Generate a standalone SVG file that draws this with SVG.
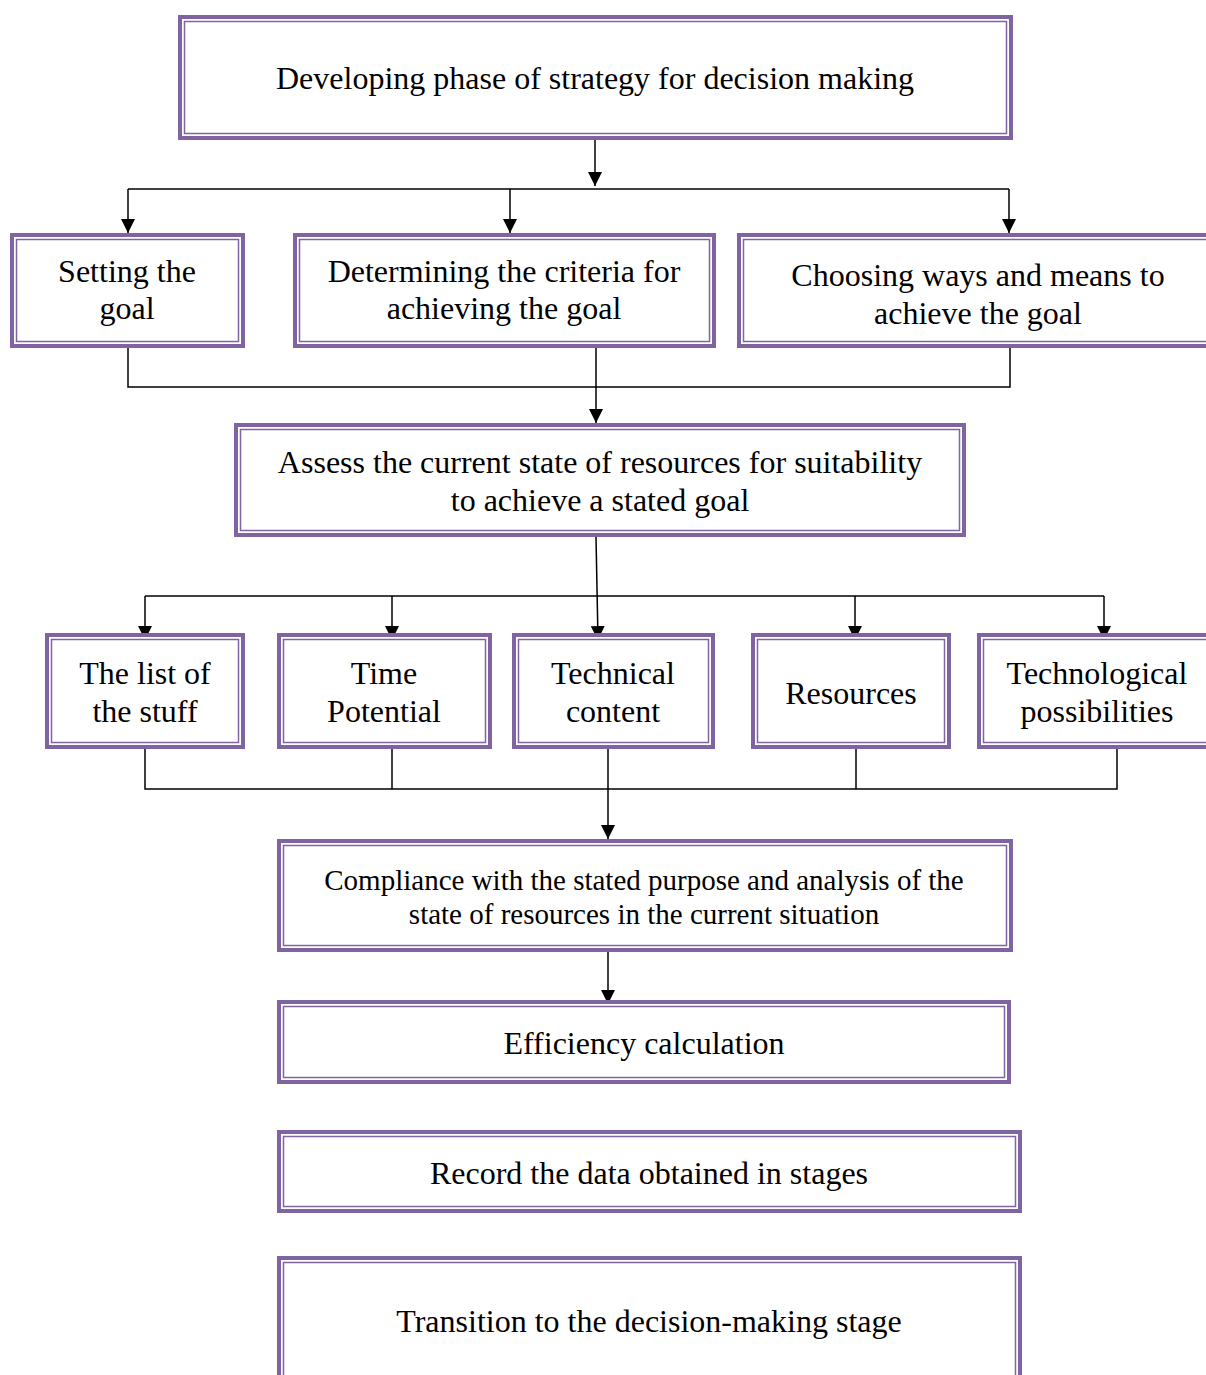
<svg xmlns="http://www.w3.org/2000/svg" width="1206" height="1375" viewBox="0 0 1206 1375">
<style>
.o{fill:#fff;stroke:#8064A2;stroke-width:4}
.i{fill:none;stroke:#8064A2;stroke-width:1.5}
.t{font-family:"Liberation Serif","Times New Roman",serif;font-size:32px;fill:#000;text-anchor:middle}
.s{font-size:29px}
.c{fill:none;stroke:#000;stroke-width:1.5}
</style>
<defs>
<marker id="dn" markerUnits="userSpaceOnUse" markerWidth="16" markerHeight="16" viewBox="0 0 16 16" refX="14" refY="8" orient="auto">
<path d="M0,1 L14,8 L0,15 Z" fill="#000"/>
</marker>
</defs>
<g id="connectors">
<path class="c" d="M595,140 V186" marker-end="url(#dn)"/>
<path class="c" d="M128,189 H1009"/>
<path class="c" d="M128,189 V233" marker-end="url(#dn)"/>
<path class="c" d="M510,189 V233" marker-end="url(#dn)"/>
<path class="c" d="M1009,189 V233" marker-end="url(#dn)"/>
<path class="c" d="M128,348 V387 H1010 V348"/>
<path class="c" d="M596,348 V423" marker-end="url(#dn)"/>
<path class="c" d="M596,537 L598,640" marker-end="url(#dn)"/>
<path class="c" d="M145,596 H1104"/>
<path class="c" d="M145,596 V640" marker-end="url(#dn)"/>
<path class="c" d="M392,596 V640" marker-end="url(#dn)"/>
<path class="c" d="M855,596 V640" marker-end="url(#dn)"/>
<path class="c" d="M1104,596 V640" marker-end="url(#dn)"/>
<path class="c" d="M145,749 V789 H1117 V749"/>
<path class="c" d="M392,749 V789"/>
<path class="c" d="M856,749 V789"/>
<path class="c" d="M608,749 V839" marker-end="url(#dn)"/>
<path class="c" d="M608,952 V1004" marker-end="url(#dn)"/>
</g>
<g id="n1">
<rect class="o" x="180" y="17" width="831" height="121"/>
<rect class="i" x="184.5" y="21.5" width="822" height="112"/>
<text class="t" x="595" y="89">Developing phase of strategy for decision making</text>
</g>
<g id="n2">
<rect class="o" x="12" y="235" width="231" height="111"/>
<rect class="i" x="16.5" y="239.5" width="222" height="102"/>
<text class="t" x="127" y="282">Setting the</text>
<text class="t" x="127" y="319">goal</text>
</g>
<g id="n3">
<rect class="o" x="295" y="235" width="419" height="111"/>
<rect class="i" x="299.5" y="239.5" width="410" height="102"/>
<text class="t" x="504" y="282">Determining the criteria for</text>
<text class="t" x="504" y="319">achieving the goal</text>
</g>
<g id="n4">
<rect class="o" x="739" y="235" width="480" height="111"/>
<rect class="i" x="743.5" y="239.5" width="471" height="102"/>
<text class="t" x="978" y="286">Choosing ways and means to</text>
<text class="t" x="978" y="324">achieve the goal</text>
</g>
<g id="n5">
<rect class="o" x="236" y="425" width="728" height="110"/>
<rect class="i" x="240.5" y="429.5" width="719" height="101"/>
<text class="t" x="600" y="473">Assess the current state of resources for suitability</text>
<text class="t" x="600" y="511">to achieve a stated goal</text>
</g>
<g id="n6">
<rect class="o" x="47" y="635" width="196" height="112"/>
<rect class="i" x="51.5" y="639.5" width="187" height="103"/>
<text class="t" x="145" y="684">The list of</text>
<text class="t" x="145" y="722">the stuff</text>
</g>
<g id="n7">
<rect class="o" x="279" y="635" width="211" height="112"/>
<rect class="i" x="283.5" y="639.5" width="202" height="103"/>
<text class="t" x="384" y="684">Time</text>
<text class="t" x="384" y="722">Potential</text>
</g>
<g id="n8">
<rect class="o" x="514" y="635" width="199" height="112"/>
<rect class="i" x="518.5" y="639.5" width="190" height="103"/>
<text class="t" x="613" y="684">Technical</text>
<text class="t" x="613" y="722">content</text>
</g>
<g id="n9">
<rect class="o" x="753" y="635" width="196" height="112"/>
<rect class="i" x="757.5" y="639.5" width="187" height="103"/>
<text class="t" x="851" y="704">Resources</text>
</g>
<g id="n10">
<rect class="o" x="979" y="635" width="240" height="112"/>
<rect class="i" x="983.5" y="639.5" width="231" height="103"/>
<text class="t" x="1097" y="684">Technological</text>
<text class="t" x="1097" y="722">possibilities</text>
</g>
<g id="n11">
<rect class="o" x="279" y="841" width="732" height="109"/>
<rect class="i" x="283.5" y="845.5" width="723" height="100"/>
<text class="t s" x="644" y="890">Compliance with the stated purpose and analysis of the</text>
<text class="t s" x="644" y="924">state of resources in the current situation</text>
</g>
<g id="n12">
<rect class="o" x="279" y="1002" width="730" height="80"/>
<rect class="i" x="283.5" y="1006.5" width="721" height="71"/>
<text class="t" x="644" y="1054">Efficiency calculation</text>
</g>
<g id="n13">
<rect class="o" x="279" y="1132" width="741" height="79"/>
<rect class="i" x="283.5" y="1136.5" width="732" height="70"/>
<text class="t" x="649" y="1184">Record the data obtained in stages</text>
</g>
<g id="n14">
<rect class="o" x="279" y="1258" width="741" height="130"/>
<rect class="i" x="283.5" y="1262.5" width="732" height="121"/>
<text class="t" x="649" y="1332">Transition to the decision-making stage</text>
</g>
</svg>
